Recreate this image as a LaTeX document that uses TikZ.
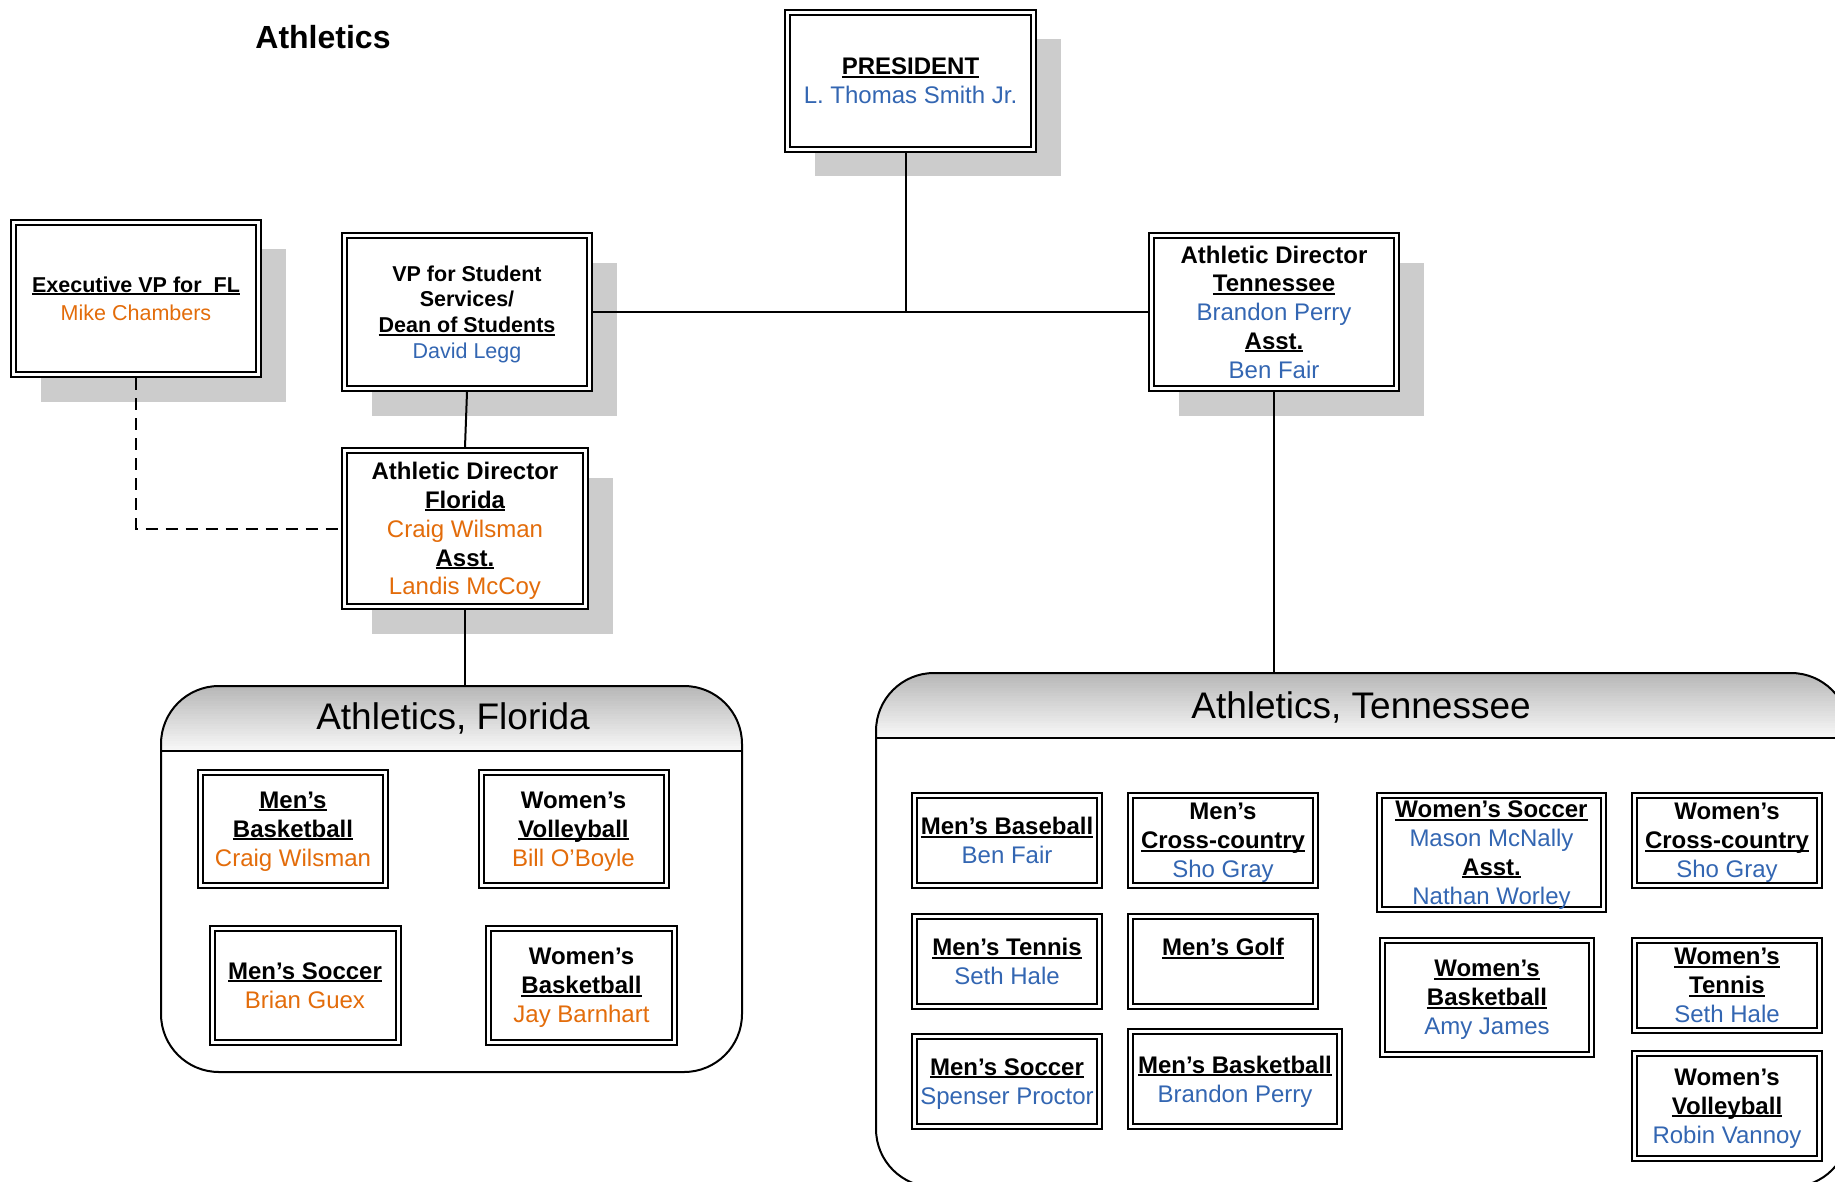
\documentclass[tikz,border=0pt]{standalone}
\usepackage{fontspec}
\setmainfont{Liberation Sans}
\usepackage{xcolor}
\usepackage{tikz}
\usetikzlibrary{shadows,calc}

\definecolor{florange}{HTML}{E36C0A}
\definecolor{tnblue}{HTML}{3366B2}

\newcommand{\ulbox}[1]{\setbox0\hbox{#1}\rlap{\rule[-3pt]{\wd0}{2pt}}\box0}
\newcommand{\sport}[1]{\textbf{\ulbox{#1}}}
\newcommand{\flname}[1]{\textcolor{florange}{#1}}
\newcommand{\tnname}[1]{\textcolor{tnblue}{#1}}

\tikzset{
  box/.style={draw, double, line width=2pt, double distance=3pt, fill=white,
    align=center, inner sep=0pt, outer sep=3.5pt, text depth=0pt,
    font=\fontsize{24}{28.8}\selectfont},
  topbox/.style={box, drop shadow={shadow xshift=27pt, shadow yshift=-27pt,
    fill=black!20, opacity=1}},
  group/.style={draw, line width=2pt, rounded corners=58pt, inner sep=0pt,
    path picture={
      % header band, light at the bottom
      \foreach \k [evaluate=\k as \pct using int(28-\k)] in {0,...,25}
        \fill[sharp corners, black!\pct]
          ([yshift=-\k*2.5pt]path picture bounding box.north west) rectangle
          ([yshift=-\k*2.5pt-2.6pt]path picture bounding box.north east);
      \draw[sharp corners, line width=2pt] ([yshift=-65pt]path picture bounding box.north west)
        -- ([yshift=-65pt]path picture bounding box.north east);
    }},
  grouptitle/.style={anchor=base, font=\fontsize{37}{44}\selectfont},
  link/.style={line width=2pt},
  dashlink/.style={line width=2pt, dash pattern=on 12pt off 8pt},
}

\begin{document}
\begin{tikzpicture}[x=1pt, y=-1pt]
    \useasboundingbox (0,0) rectangle (1835,1182);

    % Title
    \node[anchor=base, font=\bfseries\fontsize{32}{38}\selectfont] (title) at (323,49) {Athletics};

    % Groups
    \node[group, minimum width=581pt, minimum height=386pt] (flgroup) at (451.5,879) {};
    \node[grouptitle] (fltitle) at (453,729) {Athletics, Florida};
    \node[group, minimum width=973pt, minimum height=514pt] (tngroup) at (1362.5,930) {};
    \node[grouptitle] (tntitle) at (1361,718) {Athletics, Tennessee};

    % Top of the chart
    \node[topbox, minimum width=246pt, minimum height=137pt] (pres) at (910.5,81)
        {\sport{PRESIDENT}\\ \tnname{L. Thomas Smith Jr.}};
    \node[topbox, minimum width=245pt, minimum height=152pt,
          font=\fontsize{21.5}{28}\selectfont] (exec) at (136,298.5)
        {\sport{Executive VP for\ \ FL}\\ \flname{Mike Chambers}};
    \node[topbox, minimum width=245pt, minimum height=153pt,
          font=\fontsize{21.5}{25.7}\selectfont] (vpss) at (467,312)
        {\textbf{VP for Student}\\ \textbf{Services/}\\ \sport{Dean of Students}\\ \tnname{David Legg}};
    \node[topbox, minimum width=241pt, minimum height=156pt] (adfl) at (465,528.5)
        {\textbf{Athletic Director}\\ \sport{Florida}\\ \flname{Craig Wilsman}\\ \sport{Asst.}\\ \flname{Landis McCoy}};
    \node[topbox, minimum width=245pt, minimum height=153pt] (adtn) at (1274,312)
        {\textbf{Athletic Director}\\ \sport{Tennessee}\\ \tnname{Brandon Perry}\\ \sport{Asst.}\\ \tnname{Ben Fair}};

    % Florida sports
    \node[box, minimum width=185pt, minimum height=113pt] (flmbb) at (293,829)
        {\sport{Men’s}\\ \sport{Basketball}\\ \flname{Craig Wilsman}};
    \node[box, minimum width=185pt, minimum height=113pt] (flwvb) at (573.5,829)
        {\textbf{Women’s}\\ \sport{Volleyball}\\ \flname{Bill O’Boyle}};
    \node[box, minimum width=186pt, minimum height=114pt] (flmsoc) at (305,985.5)
        {\sport{Men’s Soccer}\\ \flname{Brian Guex}};
    \node[box, minimum width=186pt, minimum height=114pt] (flwbb) at (581.5,985.5)
        {\textbf{Women’s}\\ \sport{Basketball}\\ \flname{Jay Barnhart}};

    % Tennessee sports
    \node[box, minimum width=185pt, minimum height=90pt] (tnmbase) at (1007,840.5)
        {\sport{Men’s Baseball}\\ \tnname{Ben Fair}};
    \node[box, minimum width=185pt, minimum height=90pt] (tnmcc) at (1223,840.5)
        {\textbf{Men’s}\\ \sport{Cross-country}\\ \tnname{Sho Gray}};
    \node[box, minimum width=185pt, minimum height=90pt] (tnmten) at (1007,961.5)
        {\sport{Men’s Tennis}\\ \tnname{Seth Hale}};
    \node[box, minimum width=185pt, minimum height=90pt] (tnmgolf) at (1223,961.5)
        {\sport{Men’s Golf}\\ \phantom{X}};
    \node[box, minimum width=185pt, minimum height=90pt] (tnmsoc) at (1007,1081.5)
        {\sport{Men’s Soccer}\\ \tnname{Spenser Proctor}};
    \node[box, minimum width=209pt, minimum height=95pt] (tnmbb) at (1235,1079)
        {\sport{Men’s Basketball}\\ \tnname{Brandon Perry}};
    \node[box, minimum width=224pt, minimum height=114pt] (tnwsoc) at (1491.5,852.5)
        {\sport{Women’s Soccer}\\ \tnname{Mason McNally}\\ \sport{Asst.}\\ \tnname{Nathan Worley}};
    \node[box, minimum width=185pt, minimum height=90pt] (tnwcc) at (1727,840.5)
        {\textbf{Women’s}\\ \sport{Cross-country}\\ \tnname{Sho Gray}};
    \node[box, minimum width=209pt, minimum height=114pt] (tnwbb) at (1487,997.5)
        {\sport{Women’s}\\ \sport{Basketball}\\ \tnname{Amy James}};
    \node[box, minimum width=185pt, minimum height=90pt] (tnwten) at (1727,985.5)
        {\sport{Women’s}\\ \sport{Tennis}\\ \tnname{Seth Hale}};
    \node[box, minimum width=185pt, minimum height=105pt] (tnwvb) at (1727,1106)
        {\textbf{Women’s}\\ \sport{Volleyball}\\ \tnname{Robin Vannoy}};

    % Connectors
    \draw[link] ([xshift=-5pt]pres.south) -- ([xshift=-5pt]pres.south |- vpss.east);
    \draw[link] (vpss.east) -- (adtn.west);
    \draw[link] (vpss.south) -- (adfl.north);
    \draw[link] (adfl.south) -- (adfl.south |- flgroup.north);
    \draw[link] (adtn.south) -- (adtn.south |- tngroup.north);
    \draw[dashlink] (exec.south) |- (adfl.west);
\end{tikzpicture}
\end{document}
